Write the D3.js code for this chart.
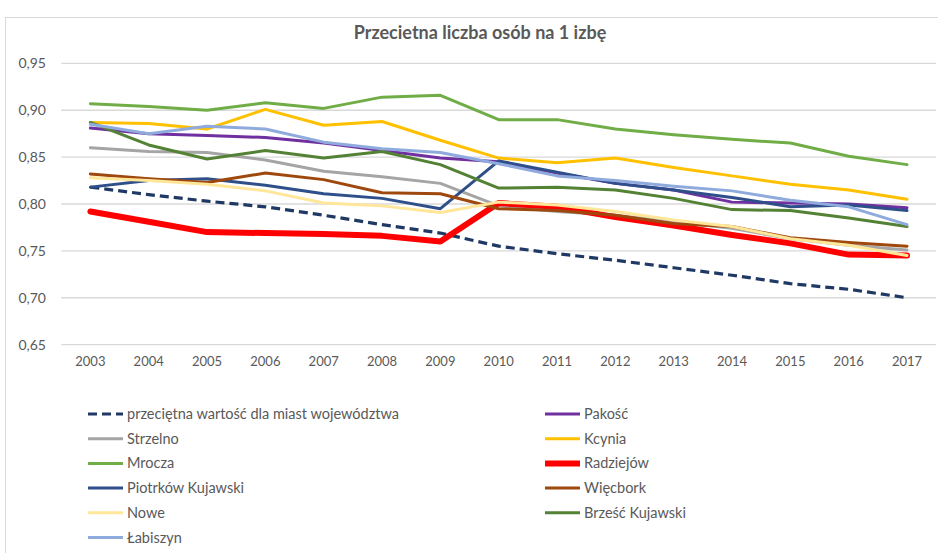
<!DOCTYPE html>
<html><head><meta charset="utf-8">
<script src="https://cdn.jsdelivr.net/npm/d3@7"></script>
<style>
html,body{margin:0;padding:0;background:#fff;}
text{font-family:Lato,"Open Sans",sans-serif;fill:#595959;}
</style></head>
<body><svg id="c" width="938" height="553"></svg>
<script>
const years = ["2003","2004","2005","2006","2007","2008","2009","2010","2011","2012","2013","2014","2015","2016","2017"];
const yTicks = [0.65,0.70,0.75,0.80,0.85,0.90,0.95];
const seriesNames = ["przeciętna wartość dla miast województwa","Pakość","Strzelno","Kcynia","Mrocza","Radziejów","Piotrków Kujawski","Więcbork","Nowe","Brześć Kujawski","Łabiszyn"];
const avgValues      = [0.818,0.810,0.803,0.797,0.788,0.778,0.769,0.755,0.747,0.740,0.732,0.724,0.715,0.709,0.700];
const pakoscValues   = [0.881,0.875,0.873,0.871,0.865,0.857,0.849,0.845,0.833,0.822,0.815,0.802,0.801,0.800,0.796];
const strzelnoValues = [0.860,0.856,0.855,0.847,0.835,0.829,0.822,0.798,0.792,0.788,0.781,0.774,0.763,0.756,0.751];
const kcyniaValues   = [0.887,0.886,0.880,0.901,0.884,0.888,0.868,0.849,0.844,0.849,0.839,0.830,0.821,0.815,0.805];
const mroczaValues   = [0.907,0.904,0.900,0.908,0.902,0.914,0.916,0.890,0.890,0.880,0.874,0.869,0.865,0.851,0.842];
const radziejowValues= [0.792,0.781,0.770,0.769,0.768,0.766,0.760,0.801,0.797,0.786,0.777,0.767,0.758,0.746,0.745];
const piotrkowValues = [0.818,0.825,0.827,0.820,0.811,0.806,0.795,0.846,0.834,0.822,0.815,0.807,0.797,0.799,0.793];
const wiecborkValues = [0.832,0.827,0.823,0.833,0.826,0.812,0.811,0.795,0.793,0.788,0.779,0.776,0.764,0.759,0.755];
const noweValues     = [0.828,0.825,0.821,0.814,0.801,0.798,0.791,0.802,0.799,0.792,0.783,0.776,0.763,0.756,0.745];
const brzescValues   = [0.887,0.863,0.848,0.857,0.849,0.856,0.842,0.817,0.818,0.815,0.806,0.794,0.793,0.785,0.776];
const labiszynValues = [0.885,0.875,0.883,0.880,0.866,0.859,0.855,0.843,0.830,0.825,0.819,0.814,0.804,0.797,0.778];
const seriesValues = [avgValues,pakoscValues,strzelnoValues,kcyniaValues,mroczaValues,radziejowValues,piotrkowValues,wiecborkValues,noweValues,brzescValues,labiszynValues];
const colors = ["#1f3864","#7030a0","#a5a5a5","#ffc000","#70ad47","#ff0000","#2f4f8a","#9e480e","#ffe699","#548235","#8faadc"];
const widths = [3.2,3,3,3,3,6,3,3,3,3,3];
const dashes = ["9,5",null,null,null,null,null,null,null,null,null,null];

const svg = d3.select("#c");
// chart area border
svg.append("rect").attr("x",5.5).attr("y",17.5).attr("width",945).attr("height",560)
  .attr("fill","none").attr("stroke","#d9d9d9").attr("stroke-width",1);

const x = d3.scaleBand().domain(years).range([61.2,936.2]);
const y = d3.scaleLinear().domain([0.65,0.95]).range([344.6,63.4]);
const cx = d => x(d)+x.bandwidth()/2;

// gridlines
svg.append("g").selectAll("line").data(yTicks).join("line")
  .attr("x1",61.2).attr("x2",936.2).attr("y1",d=>y(d)).attr("y2",d=>y(d))
  .attr("stroke","#d9d9d9").attr("stroke-width",1.3);

// y axis labels
const yAxis = d3.axisLeft(y).tickValues(yTicks).tickSize(0).tickPadding(0)
  .tickFormat(d=>d3.format(".2f")(d).replace(".",","));
const gy = svg.append("g").attr("transform","translate(46,0)").call(yAxis);
gy.select(".domain").remove();
gy.selectAll("text").style("font-size","14px").attr("fill","#595959").style("font-family","Lato");

// x axis labels
const xAxis = d3.axisBottom(x).tickSize(0).tickPadding(0);
const gx = svg.append("g").attr("transform","translate(0,357)").call(xAxis);
gx.select(".domain").remove();
gx.selectAll("text").style("font-size","13px").attr("fill","#595959").style("font-family","Lato");

// lines
const line = d3.line().x((d,i)=>cx(years[i])).y(d=>y(d));
seriesValues.forEach((vals,k)=>{
  svg.append("path").datum(vals).attr("d",line)
    .attr("fill","none").attr("stroke",colors[k]).attr("stroke-width",widths[k])
    .attr("stroke-linejoin","round").attr("stroke-linecap", k===0?"butt":"round")
    .attr("stroke-dasharray",dashes[k]);
});

// title
svg.append("text").attr("x",480).attr("y",39).attr("text-anchor","middle")
  .style("font-size","18px").style("font-weight","bold").text("Przecietna liczba osób na 1 izbę");

// legend
const lg = svg.append("g");
seriesNames.forEach((name,k)=>{
  const col = k%2, row = Math.floor(k/2);
  const lx = col===0 ? 88 : 545, ly = 414 + row*24.7;
  lg.append("line").attr("x1",lx).attr("x2",lx+35).attr("y1",ly).attr("y2",ly)
    .attr("stroke",colors[k]).attr("stroke-width",widths[k])
    .attr("stroke-dasharray",dashes[k]);
  lg.append("text").attr("x",lx+39).attr("y",ly).attr("dy","0.35em")
    .style("font-size","14.5px").text(name);
});
</script></body></html>
